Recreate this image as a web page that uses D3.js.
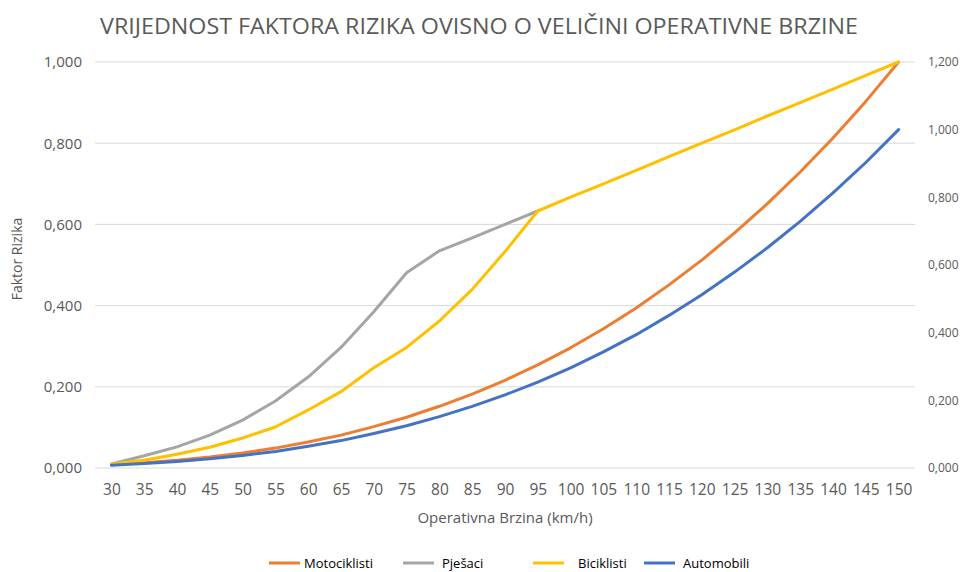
<!DOCTYPE html>
<html>
<head>
<meta charset="utf-8">
<script src="https://cdn.jsdelivr.net/npm/d3@7"></script>
<style>
  body { margin: 0; background: #fff; }
  text { font-family: 'Open Sans', 'Noto Sans', sans-serif; fill: #595959; }
</style>
</head>
<body>
<div id="chart"></div>
<script>
// speeds on the x axis (km/h)
let speeds = [30, 35, 40, 45, 50, 55, 60, 65, 70, 75, 80, 85, 90, 95,
  100, 105, 110, 115, 120, 125, 130, 135, 140, 145, 150];

// risk factor per speed
let motociklisti = [0.008, 0.013, 0.019, 0.027, 0.037, 0.049, 0.064, 0.081, 0.102, 0.125,
  0.152, 0.182, 0.216, 0.254, 0.296, 0.343, 0.394, 0.451, 0.512, 0.579, 0.651, 0.729,
  0.813, 0.903, 1.000];
let pjesaci = [0.010, 0.030, 0.052, 0.081, 0.118, 0.165, 0.224, 0.297, 0.385, 0.481,
  0.535, 0.567, 0.600, 0.633, null, null, null, null, null, null, null, null, null,
  null, null];
let biciklisti = [0.010, 0.019, 0.034, 0.051, 0.074, 0.101, 0.143, 0.188, 0.247, 0.297,
  0.362, 0.440, 0.533, 0.633, 0.667, 0.700, 0.733, 0.767, 0.800, 0.833, 0.867, 0.900,
  0.933, 0.967, 1.000];
// automobili is plotted against the secondary (right) axis
let automobili = [0.008, 0.013, 0.019, 0.027, 0.037, 0.049, 0.064, 0.081, 0.102, 0.125,
  0.152, 0.182, 0.216, 0.254, 0.296, 0.343, 0.394, 0.451, 0.512, 0.579, 0.651, 0.729,
  0.813, 0.903, 1.000];

let leftTicks = [0, 0.2, 0.4, 0.6, 0.8, 1.0];
let rightTicks = [0, 0.2, 0.4, 0.6, 0.8, 1.0, 1.2];

let width = 960;
let height = 572;
let plotLeft = 95, plotRight = 915, plotTop = 62, plotBottom = 468;

let svg = d3.select('#chart')
.append('svg')
.attr('width', width)
.attr('height', height);

let x = d3.scalePoint()
.domain(speeds)
.range([plotLeft, plotRight])
.padding(0.5);

let yLeft = d3.scaleLinear().domain([0, 1]).range([plotBottom, plotTop]);
let yRight = d3.scaleLinear().domain([0, 1.2]).range([plotBottom, plotTop]);

let fmt = d3.formatLocale({decimal: ',', thousands: '.', grouping: [3], currency: ['', '']})
.format('.3f');

// title
svg.append('text')
.attr('x', 100)
.attr('y', 34)
.attr('textLength', 758)
.attr('lengthAdjust', 'spacingAndGlyphs')
.style('font-size', '22px')
.text('VRIJEDNOST FAKTORA RIZIKA OVISNO O VELIČINI OPERATIVNE BRZINE');

// gridlines
svg.append('g')
.selectAll('line')
.data(leftTicks)
.join('line')
.attr('x1', plotLeft)
.attr('x2', plotRight)
.attr('y1', d => yLeft(d))
.attr('y2', d => yLeft(d))
.attr('stroke', '#d9d9d9')
.attr('stroke-width', 1);

// left axis
let leftAxis = svg.append('g')
.attr('transform', 'translate(' + (plotLeft - 13) + ',0)')
.call(d3.axisLeft(yLeft).tickValues(leftTicks).tickFormat(fmt).tickSize(0).tickPadding(0));
leftAxis.select('.domain').remove();
leftAxis.selectAll('text')
.style('font-size', '15px')
.attr('fill', null);

// right axis
let rightAxis = svg.append('g')
.attr('transform', 'translate(' + (plotRight + 13) + ',0)')
.call(d3.axisRight(yRight).tickValues(rightTicks).tickFormat(fmt).tickSize(0).tickPadding(0));
rightAxis.select('.domain').remove();
rightAxis.selectAll('text')
.style('font-size', '12px')
.attr('fill', null);

// x axis
let xAxis = svg.append('g')
.attr('transform', 'translate(0,' + plotBottom + ')')
.call(d3.axisBottom(x).tickSize(0).tickPadding(16));
xAxis.select('.domain').remove();
xAxis.selectAll('text')
.style('font-size', '15.5px')
.attr('fill', null);

// axis titles
svg.append('text')
.attr('transform', 'translate(22,259) rotate(-90)')
.attr('text-anchor', 'middle')
.style('font-size', '14px')
.text('Faktor Rizika');

svg.append('text')
.attr('x', 505)
.attr('y', 523)
.attr('text-anchor', 'middle')
.style('font-size', '15px')
.text('Operativna Brzina (km/h)');

// series
let series = [
  {name: 'Motociklisti', values: motociklisti, color: '#ED7D31', y: yLeft},
  {name: 'Pješaci', values: pjesaci, color: '#A5A5A5', y: yLeft},
  {name: 'Biciklisti', values: biciklisti, color: '#FFC000', y: yLeft},
  {name: 'Automobili', values: automobili, color: '#4472C4', y: yRight}
];

series.forEach(function(s) {
  let line = d3.line()
  .defined(d => d != null)
  .x((d, i) => x(speeds[i]))
  .y(d => s.y(d));
  svg.append('path')
  .datum(s.values)
  .attr('d', line)
  .attr('fill', 'none')
  .attr('stroke', s.color)
  .attr('stroke-width', 3)
  .attr('stroke-linejoin', 'round')
  .attr('stroke-linecap', 'round');
});

// legend - Excel spaced these unevenly, so keep its positions
let legendLineX = [269, 403, 533, 644];
let legendTextX = [304, 442, 578, 683];
let legendY = 563;

let legend = svg.append('g');
series.forEach(function(s, i) {
  legend.append('line')
  .attr('x1', legendLineX[i])
  .attr('x2', legendLineX[i] + 31)
  .attr('y1', legendY)
  .attr('y2', legendY)
  .attr('stroke', s.color)
  .attr('stroke-width', 3);
  legend.append('text')
  .attr('x', legendTextX[i])
  .attr('y', legendY)
  .attr('dominant-baseline', 'central')
  .style('font-size', '13px')
  .style('fill', '#000')
  .text(s.name);
});
</script>
</body>
</html>
